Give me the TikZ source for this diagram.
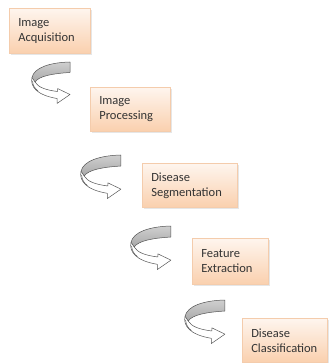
\documentclass[tikz,border=0pt]{standalone}
\usepackage{fontspec}
\setmainfont{Carlito}
\usetikzlibrary{shadows}
\definecolor{peachtop}{HTML}{FEF5EE}
\definecolor{peachbot}{HTML}{FAD0AE}
\definecolor{peachline}{HTML}{F4CCAC}
\definecolor{txt}{HTML}{333333}
\definecolor{bandtop}{HTML}{CFCFCF}
\definecolor{bandbot}{HTML}{A8A8A8}
\definecolor{curlline}{HTML}{555555}
\tikzset{
  stage/.style={draw=peachline, line width=0.6pt, top color=peachtop, bottom color=peachbot,
    drop shadow={opacity=0.2, shadow xshift=1.6pt, shadow yshift=-1.6pt},
    anchor=north west, align=left, inner xsep=9pt, inner ysep=0pt,
    font=\fontsize{12.5}{15}\selectfont, text=txt},
  curl/.pic={
    \fill[white] (1,15.5) .. controls (-1,24) and (5,33) .. (26,36.5) -- (26,41.5) -- (39,32.5)
      -- (26.5,26.5) -- (26.5,29.5) .. controls (14,28) and (7,25) .. (4,20) -- cycle;
    \draw[curlline, line width=0.5pt, line join=round]
      (1,15.5) .. controls (-1,24) and (5,33) .. (26,36.5) -- (26,41.5) -- (39,32.5)
      -- (26.5,26.5) -- (26.5,29.5) .. controls (14,28) and (7,25) .. (4,20);
    \draw[curlline, line width=0.5pt] (1.5,19) .. controls (2,24) and (4,27) .. (7,29);
    \draw[curlline, line width=0.5pt, top color=bandtop, bottom color=bandbot, line join=round]
      (39,0) -- (39,10.5) .. controls (22,11.5) and (8,14) .. (4,20) -- (1,15.5)
      .. controls (3,6) and (18,0.5) .. (39,0) -- cycle;
  }
}
\begin{document}
\begin{tikzpicture}[x=1pt,y=-1pt]
\useasboundingbox (0,0) rectangle (330,363);
\node[stage, text width=63pt, minimum height=45pt] (b1) at (9,8) {Image\\Acquisition};
\node[stage, text width=62pt, minimum height=44pt] (b2) at (90,87) {Image\\Processing};
\node[stage, text width=77pt, minimum height=44pt] (b3) at (142,163) {Disease\\Segmentation};
\node[stage, text width=58pt, minimum height=46pt] (b4) at (192,238) {Feature\\Extraction};
\node[stage, text width=67pt, minimum height=44pt] (b5) at (242,318) {Disease\\Classification};
\pic at (31,62) {curl};
\pic[scale=1.05] at (80,155) {curl};
\pic[scale=1.05] at (130,226) {curl};
\pic[scale=1.05] at (184,300) {curl};
\end{tikzpicture}
\end{document}
